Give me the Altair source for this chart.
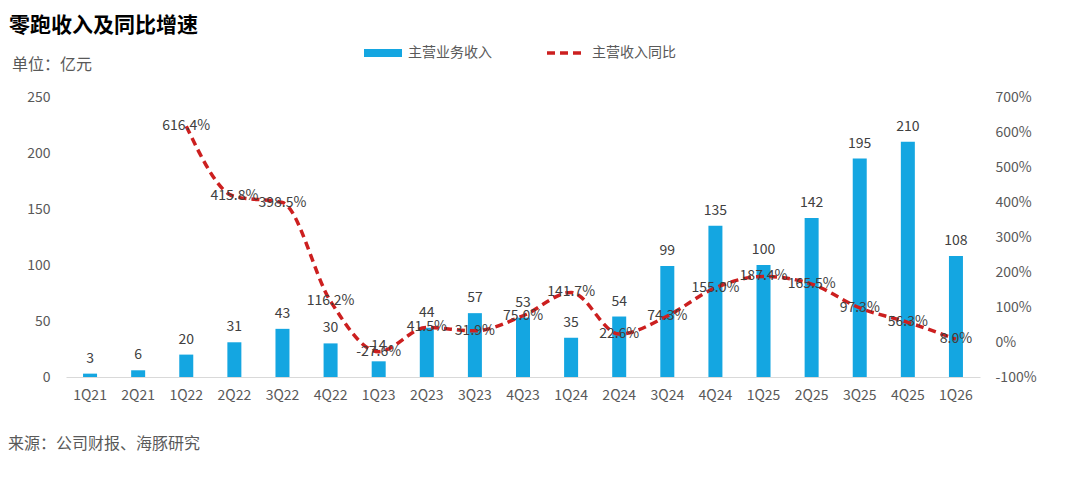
import altair as alt
import pandas as pd

quarters = ["1Q21", "2Q21", "1Q22", "2Q22", "3Q22", "4Q22", "1Q23", "2Q23", "3Q23", "4Q23",
            "1Q24", "2Q24", "3Q24", "4Q24", "1Q25", "2Q25", "3Q25", "4Q25", "1Q26"]
revenue = [3, 6, 20, 31, 43, 30, 14, 44, 57, 53, 35, 54, 99, 135, 100, 142, 195, 210, 108]
yoy = [None, None, 616.4, 415.8, 398.5, 116.2, -27.6, 41.5, 31.9, 75.0, 141.7, 22.6, 74.3,
       155.0, 187.4, 165.5, 97.3, 56.3, 8.0]

FONT = "Noto Sans CJK SC"
BAR = "#14A6E1"
RED = "#CC1F1F"
GREY = "#595959"

df = pd.DataFrame({"q": quarters, "rev": revenue, "yoy": yoy})
df["yoy_label"] = [("" if v is None else f"{v:.1f}%") for v in yoy]
df_line = df.dropna(subset=["yoy"])

x_enc = alt.X("q:N", sort=quarters, title=None,
              scale=alt.Scale(paddingInner=0.0, paddingOuter=0.0),
              axis=alt.Axis(labelAngle=0, labelFont=FONT, labelFontSize=14, labelColor=GREY,
                            ticks=False, domainColor="#D9D9D9", domainWidth=1,
                            labelPadding=11, grid=False, labelOverlap=False))

y_left = alt.Y("rev:Q", title=None, scale=alt.Scale(domain=[0, 250], nice=False),
               axis=alt.Axis(values=[0, 50, 100, 150, 200, 250], grid=False, domain=False,
                             ticks=False, labelFont=FONT, labelFontSize=14, labelColor=GREY,
                             labelPadding=16, orient="left", labelOverlap=False))

y_right = alt.Y("yoy:Q", title=None, scale=alt.Scale(domain=[-100, 700], nice=False),
                axis=alt.Axis(values=list(range(-100, 701, 100)), grid=False, domain=False,
                              ticks=False, labelFont=FONT, labelFontSize=14, labelColor=GREY,
                              labelPadding=15, orient="right", labelOverlap=False,
                              labelExpr="datum.value + '%'"))

base = alt.Chart(df)
bars = base.mark_bar(color=BAR, size=14).encode(x=x_enc, y=y_left)
bar_text = base.mark_text(font=FONT, fontSize=14, color="#404040", baseline="bottom", dy=-8).encode(
    x=x_enc, y=y_left, text="rev:Q")

line_base = alt.Chart(df_line)
line = line_base.mark_line(color=RED, strokeWidth=3.5, strokeDash=[8, 5],
                           interpolate="monotone").encode(x=x_enc, y=y_right)
line_text = line_base.mark_text(font=FONT, fontSize=14, color="#404040").encode(
    x=x_enc, y=y_right, text="yoy_label:N")

one = pd.DataFrame({"a": [0]})
ann = alt.Chart(one)
title = ann.mark_text(text="零跑收入及同比增速", font=FONT, fontSize=21, fontWeight="bold",
                      color="#000000", align="left", baseline="middle").encode(
    x=alt.value(-57), y=alt.value(-71))
unit = ann.mark_text(text="单位：亿元", font=FONT, fontSize=16, color=GREY,
                     align="left", baseline="middle").encode(x=alt.value(-54), y=alt.value(-32))
source = ann.mark_text(text="来源：公司财报、海豚研究", font=FONT, fontSize=16, color=GREY,
                       align="left", baseline="middle").encode(x=alt.value(-58), y=alt.value(347))
leg_rect = ann.mark_rect(color=BAR).encode(x=alt.value(298), x2=alt.value(336),
                                          y=alt.value(-48), y2=alt.value(-40))
leg_t1 = ann.mark_text(text="主营业务收入", font=FONT, fontSize=14, color=GREY,
                       align="left", baseline="middle").encode(x=alt.value(342), y=alt.value(-44))
leg_line = ann.mark_rule(color=RED, strokeWidth=3.5, strokeDash=[8, 5]).encode(
    x=alt.value(481), x2=alt.value(519), y=alt.value(-44))
leg_t2 = ann.mark_text(text="主营收入同比", font=FONT, fontSize=14, color=GREY,
                       align="left", baseline="middle").encode(x=alt.value(526), y=alt.value(-44))

left_layer = alt.layer(bars, bar_text, title, unit, source, leg_rect, leg_t1, leg_line, leg_t2)
right_layer = alt.layer(line, line_text)

chart = alt.layer(left_layer, right_layer).resolve_scale(y="independent").properties(
    width=914, height=280,
    autosize=alt.AutoSizeParams(type="none"),
    padding={"left": 58, "top": 89, "right": 92, "bottom": 92},
    background="white",
).configure_view(stroke=None)

chart.save("out.html", embed_options={"renderer": "svg", "actions": False})
